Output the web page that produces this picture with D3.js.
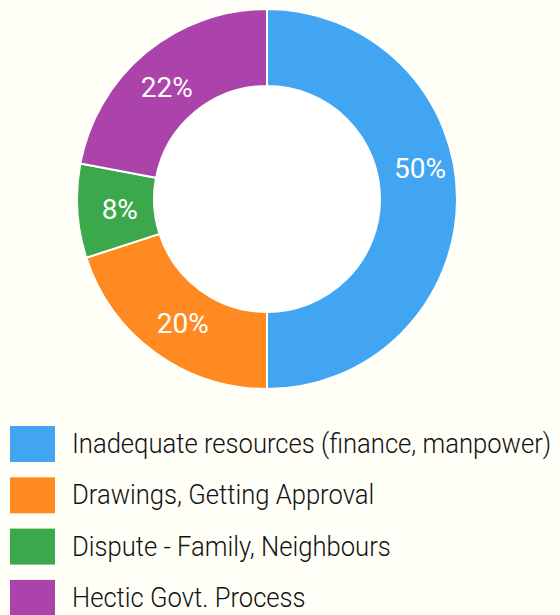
<!DOCTYPE html>
<html>
<head>
<meta charset="utf-8">
<script src="https://cdn.jsdelivr.net/npm/d3@7"></script>
<style>
  html, body { margin: 0; padding: 0; background: #fffff7; }
  svg { display: block; font-family: Roboto, "Noto Sans", sans-serif; }
</style>
</head>
<body>
<script>
// data
const categories = [
  'Inadequate resources (finance, manpower)',
  'Drawings, Getting Approval',
  'Dispute - Family, Neighbours',
  'Hectic Govt. Process'
];
const values = [50, 20, 8, 22];
const colors = ['#42a5f2', '#ff8a22', '#3ca84c', '#ab43aa'];

const width = 560, height = 615;
const cx = 267, cy = 199;
const outerR = 190, innerR = 113;

const svg = d3.select('body').append('svg')
  .attr('width', width)
  .attr('height', height);

const color = d3.scaleOrdinal().domain(categories).range(colors);

const pie = d3.pie().sort(null).value(d => d.value);
const arcs = pie(categories.map((c, i) => ({ name: c, value: values[i] })));

const arc = d3.arc().innerRadius(innerR).outerRadius(outerR);

const g = svg.append('g')
  .attr('transform', 'translate(' + cx + ' ' + cy + ')');

// white hole in the middle
g.append('circle').attr('r', innerR).attr('fill', '#fff');

g.selectAll('path.slice').data(arcs).enter().append('path')
  .attr('class', 'slice')
  .attr('d', arc)
  .attr('fill', d => color(d.data.name))
  .attr('stroke', '#fff')
  .attr('stroke-width', 2);

// percentage labels: sit a little before the middle of the slice,
// the big slice pulls its label further back and out
function labelPos(d) {
  const f = 0.5 - d.data.value / 800;
  const r = 146 + d.data.value / 5;
  const a = d.startAngle + (d.endAngle - d.startAngle) * f;
  return [r * Math.sin(a), -r * Math.cos(a)];
}

g.selectAll('text.pct').data(arcs).enter().append('text')
  .attr('class', 'pct')
  .attr('x', d => labelPos(d)[0])
  .attr('y', d => labelPos(d)[1])
  .attr('dy', '0.35em')
  .attr('text-anchor', 'middle')
  .attr('fill', '#fff')
  .style('font-size', '28px')
  .text(d => d.data.value + '%');

// legend
const legendY = d3.scaleBand().domain(categories).range([426, 631.2]);

const leg = svg.selectAll('g.legend').data(categories).enter().append('g')
  .attr('class', 'legend')
  .attr('transform', d => 'translate(10 ' + legendY(d) + ')');

leg.append('rect')
  .attr('width', 45)
  .attr('height', 36)
  .attr('fill', d => color(d));

// the legend text is a bit narrower than plain Roboto Light
leg.append('text')
  .attr('transform', 'translate(62 27) scale(0.915 1)')
  .attr('fill', '#111')
  .style('font-size', '28px')
  .style('font-weight', 300)
  .text(d => d);
</script>
</body>
</html>
